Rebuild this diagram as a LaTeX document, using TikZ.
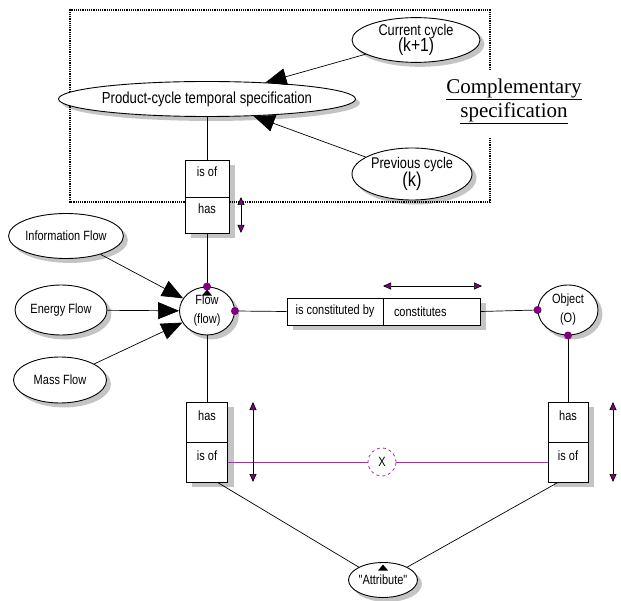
\documentclass[tikz,border=0pt]{standalone}
\usepackage{fontspec}
\setmainfont{Liberation Serif}
\newfontfamily\nar[FakeStretch=0.82]{Liberation Sans}
\usetikzlibrary{arrows.meta,shapes.geometric,backgrounds,calc}
\definecolor{dotpurple}{HTML}{800080}
\definecolor{linepurple}{HTML}{9B3B9B}
\definecolor{shadowgray}{HTML}{C4C4C4}
\tikzset{
  lbl/.style={font=\nar\fontsize{13.4}{16}\selectfont},
  ent/.style={ellipse, draw, line width=0.9pt, fill=white, inner sep=0pt, align=center, lbl},
  cell/.style={rectangle, draw, line width=0.8pt, fill=white, inner sep=0pt, lbl},
  upper/.style={text height=9pt, text depth=12pt},
  conn/.style={line width=0.7pt},
  bigarrow/.style={conn, -{Triangle[length=21pt,width=17pt]}},
  dblarrow/.style={line width=0.7pt, {Triangle[length=8pt,width=7pt,fill=dotpurple]}-{Triangle[length=8pt,width=7pt,fill=dotpurple]}},
  pdot/.style={circle, fill=dotpurple, inner sep=0pt, minimum size=8pt},
}
\newcommand\eshadow[1]{\fill[shadowgray] let \p1=($(#1.east)-(#1.west)$), \p2=($(#1.north)-(#1.south)$) in ([shift={(4,-4)}]#1.center) ellipse [x radius=0.5*\x1, y radius=0.5*\y2];}
\newcommand\rshadow[1]{\fill[shadowgray] ([shift={(6,-5)}]#1.south west) rectangle ([shift={(6,-5)}]#1.north east);}
\begin{document}
\begin{tikzpicture}[x=1pt,y=1pt]
\useasboundingbox (0,0) rectangle (621,-601);

% entities
\node[ent, minimum width=245pt, minimum height=35pt, font=\nar\fontsize{16}{18}\selectfont] (prod) at (207,-99) {Product-cycle temporal specification};
\node[ent, minimum width=128pt, minimum height=44pt, font=\nar\fontsize{15.5}{16}\selectfont] (cur) at (416,-40) {Current cycle\\[-1.5pt]{\fontsize{19}{19}\selectfont (k+1)}};
\node[ent, minimum width=120pt, minimum height=52pt, font=\nar\fontsize{15.5}{16}\selectfont] (prev) at (412,-174) {Previous cycle\\{\fontsize{20}{20}\selectfont (k)}};
\node[ent, minimum width=107pt, minimum height=45pt] (info) at (66,-236) {Information Flow};
\node[ent, minimum width=92pt, minimum height=50pt] (energy) at (61,-310) {Energy Flow};
\node[ent, minimum width=93pt, minimum height=46pt] (mass) at (60,-380) {Mass Flow};
\node[ent, minimum width=55pt, minimum height=48pt, font=\nar\fontsize{13.4}{19}\selectfont] (flow) at (207,-311) {Flow\\(flow)};
\node[ent, minimum width=60pt, minimum height=50pt, font=\nar\fontsize{13.4}{19}\selectfont] (obj) at (568,-310) {Object\\(O)};
\node[ent, minimum width=64pt, minimum height=35pt] (attr) at (383,-580) {"Attribute"};

% relationship boxes
\node[cell, upper, minimum width=44pt, minimum height=37pt] (tisof) at (207,-178.5) {is of};
\node[cell, upper, minimum width=44pt, minimum height=36pt] (thas) at (207,-215) {has};
\node[cell, minimum width=96pt, minimum height=27pt] (icb) at (335,-311.5) {is constituted by};
\node[cell, minimum width=97pt, minimum height=27pt, text width=75pt, align=left] (cons) at (431.5,-311.5) {constitutes};
\node[cell, upper, minimum width=41pt, minimum height=40pt] (lhas) at (207,-422) {has};
\node[cell, upper, minimum width=41pt, minimum height=40pt] (lisof) at (207,-462) {is of};
\node[cell, upper, minimum width=40pt, minimum height=40pt] (rhas) at (568,-422) {has};
\node[cell, upper, minimum width=40pt, minimum height=40pt] (risof) at (568,-462) {is of};

% X circle
\node[circle, draw=linepurple, dashed, line width=0.8pt, fill=white, minimum size=28pt, inner sep=0pt, lbl] (xc) at (382,-462) {X};

% Complementary specification
\node[font=\fontsize{21}{24}\selectfont, align=center] (comp) at (514,-101) {\underline{Complementary}\\\underline{specification}};

\begin{scope}[on background layer]
  % shadows
  \eshadow{prod} \eshadow{cur} \eshadow{prev} \eshadow{info} \eshadow{energy}
  \eshadow{mass} \eshadow{flow} \eshadow{obj} \eshadow{attr}
  \rshadow{tisof} \rshadow{thas} \rshadow{icb} \rshadow{cons}
  \rshadow{lhas} \rshadow{lisof} \rshadow{rhas} \rshadow{risof}
  % frame and connectors
  \draw[densely dotted, line width=1.2pt] (490,-70) -- (490,-10) -- (70,-10) -- (70,-202) -- (490,-202) -- (490,-137);
  \draw[conn] (prod) -- (tisof);
  \draw[conn] (thas) -- (flow);
  \draw[conn] (flow.east) -- (icb.west);
  \draw[conn] (cons.east) -- (obj.west);
  \draw[conn] (obj.south) -- (rhas.north);
  \draw[conn] (flow.south) -- (lhas.north);
  \draw[conn] ([xshift=10.5pt]lisof.south) -- (attr.152);
  \draw[conn] ([xshift=-10pt]risof.south) -- (attr.28);
  \draw[conn, linepurple] (lisof.east) -- (xc);
  \draw[conn, linepurple] (xc) -- (risof.west);
\end{scope}

\draw[bigarrow] (cur) -- (prod);
\draw[bigarrow] (prev) -- (prod);
\draw[bigarrow] (info) -- (flow);
\draw[bigarrow] (energy) -- (flow);
\draw[bigarrow] (mass) -- (flow);

% small tips
\fill ($(flow.north)+(-5,-9)$) -- ($(flow.north)+(0,-3)$) -- ($(flow.north)+(5,-9)$) -- cycle;
\fill ($(attr.north)+(-5,-8.5)$) -- ($(attr.north)+(0,-2.5)$) -- ($(attr.north)+(5,-8.5)$) -- cycle;

% purple dots
\node[pdot] (d1) at (flow.north) {};
\node[pdot] (d2) at (flow.east) {};
\node[pdot] (d3) at (obj.west) {};
\node[pdot] (d4) at (obj.south) {};

% cardinality arrows
\coordinate (ta1) at (241,-197); \coordinate (ta2) at (241,-233);
\coordinate (ha1) at (383,-286); \coordinate (ha2) at (482,-286);
\coordinate (la1) at (253,-402); \coordinate (la2) at (253,-482);
\coordinate (ra1) at (613,-402); \coordinate (ra2) at (613,-482);
\draw[dblarrow] (ta1) -- (ta2);
\draw[dblarrow] (ha1) -- (ha2);
\draw[dblarrow] (la1) -- (la2);
\draw[dblarrow] (ra1) -- (ra2);
\end{tikzpicture}
\end{document}
